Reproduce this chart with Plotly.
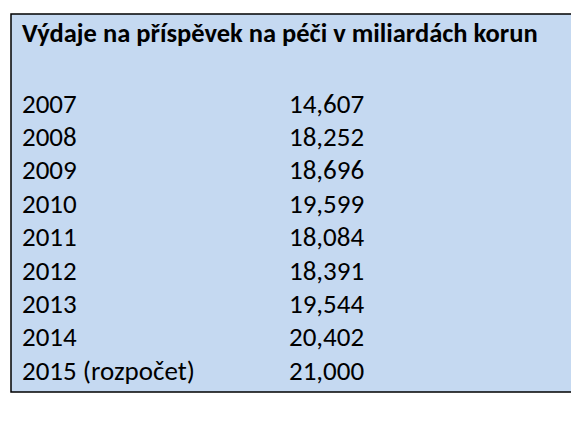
import plotly.graph_objects as go

title = "Výdaje na příspěvek na péči v miliardách korun"
years = ["2007","2008","2009","2010","2011","2012","2013","2014","2015 (rozpočet)"]
values = ["14,607","18,252","18,696","19,599","18,084","18,391","19,544","20,402","21,000"]
source = "Zdroj: MPSV (JVM)"

W, H = 579, 423
fig = go.Figure()
fig.add_shape(type="rect", x0=3, x1=574, y0=6, y1=384, xref="x", yref="y",
              fillcolor="#C5D9F1", line=dict(color="black", width=1.5), layer="below")
F = "Carlito, Lato, sans-serif"
S = 27
fig.add_annotation(x=12, y=25, text="<b>"+title+"</b>", xanchor="left", yanchor="middle",
                   showarrow=False, font=dict(family=F, size=S-0.5, color="black"))
y0, dy = 95, 33.4
for i, (yr, v) in enumerate(zip(years, values)):
    yy = y0 + i*dy
    fig.add_annotation(x=12, y=yy, text=yr, xanchor="left", yanchor="middle", showarrow=False,
                       font=dict(family=F, size=S, color="black"))
    fig.add_annotation(x=279, y=yy, text=v, xanchor="left", yanchor="middle", showarrow=False,
                       font=dict(family=F, size=S, color="black"))
fig.add_annotation(x=-3, y=401, text=source, xanchor="left", yanchor="middle", showarrow=False,
                   font=dict(family=F, size=S, color="black"))
fig.update_xaxes(range=[0, W], visible=False, fixedrange=True)
fig.update_yaxes(range=[H, 0], visible=False, fixedrange=True)
fig.update_layout(width=W, height=H, margin=dict(l=0, r=0, t=0, b=0),
                  paper_bgcolor="white", plot_bgcolor="white", showlegend=False)
fig.write_html("out.html")
